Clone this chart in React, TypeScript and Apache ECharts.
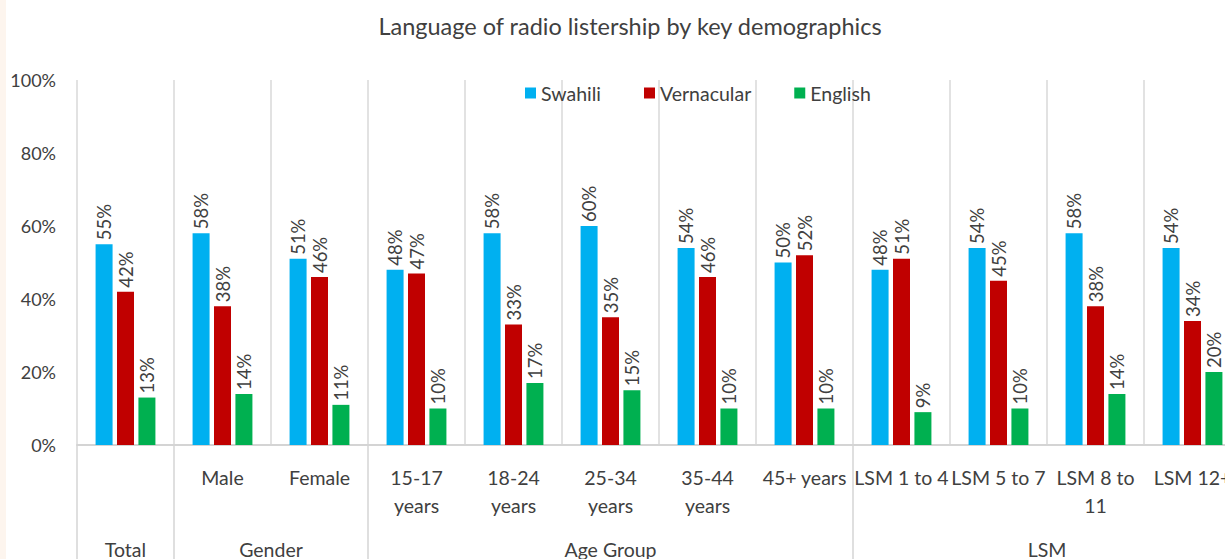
import React, { useEffect, useRef } from "react";
import * as echarts from "echarts";

const categories = [
  "Total",
  "Male",
  "Female",
  "15-17\nyears",
  "18-24\nyears",
  "25-34\nyears",
  "35-44\nyears",
  "45+ years",
  "LSM 1 to 4",
  "LSM 5 to 7",
  "LSM 8 to\n11",
  "LSM 12+",
];
// the "Total" category has no first-level label
const firstLevelLabels = ["", "Male", "Female", "15-17\nyears", "18-24\nyears", "25-34\nyears", "35-44\nyears", "45+ years", "LSM 1 to 4", "LSM 5 to 7", "LSM 8 to\n11", "LSM 12+"];
const groupNames = ["Total", "Gender", "Age Group", "LSM"];
const groupSizes = [1, 2, 5, 4];

const swahili = [55, 58, 51, 48, 58, 60, 54, 50, 48, 54, 58, 54];
const vernacular = [42, 38, 46, 47, 33, 35, 46, 52, 51, 45, 38, 34];
const english = [13, 14, 11, 10, 17, 15, 10, 10, 9, 10, 14, 20];

const yTicks = [0, 20, 40, 60, 80, 100];

const FONT = "Lato, 'Noto Sans', sans-serif";
const TXT = "#404040";

export default function App() {
  const ref = useRef<HTMLDivElement>(null);
  useEffect(() => {
    document.body.style.margin = "0";
    const chart = echarts.init(ref.current!, null, { renderer: "svg" });
    const label = {
      show: true,
      position: "top",
      rotate: 90,
      align: "left",
      verticalAlign: "middle",
      distance: 4,
      fontSize: 18.5,
      fontFamily: FONT,
      color: TXT,
      formatter: (p: any) => Math.round(p.value) + "%",
    };
    const mk = (name: string, data: number[], color: string) => ({
      name,
      type: "bar",
      data,
      barWidth: 17,
      barGap: "26%",
      itemStyle: { color },
      label,
    });
    chart.setOption({
      animation: false,
      textStyle: { fontFamily: FONT },
      title: {
        text: "Language of radio listership by key demographics",
        left: 625,
        textAlign: "center",
        top: 9,
        textStyle: { fontSize: 23.5, fontWeight: "normal", color: TXT, fontFamily: FONT },
      },
      legend: {
        left: 520,
        top: 78,
        itemWidth: 11,
        itemHeight: 11,
        itemGap: 43,
        icon: "rect",
        textStyle: { fontSize: 19.5, color: TXT, fontFamily: FONT },
        data: ["Swahili", "Vernacular", "English"],
      },
      grid: {
        left: 77,
        top: 80,
        right: -16,
        bottom: 114,
        containLabel: false,
        outerBoundsMode: "none",
      },
      xAxis: {
        type: "category",
        data: categories,
        axisLine: { lineStyle: { color: "#d4d4d4", width: 2 } },
        axisTick: { show: false },
        splitLine: { show: true, lineStyle: { color: "#d9d9d9", width: 1.5 } },
        axisLabel: {
          interval: 0,
          margin: 18,
          fontSize: 19.5,
          lineHeight: 28,
          color: TXT,
          fontFamily: FONT,
          formatter: (_v: string, i: number) => firstLevelLabels[i],
        },
      },
      yAxis: {
        type: "value",
        min: 0,
        max: 100,
        interval: 20,
        axisLine: { show: false },
        axisTick: { show: false },
        splitLine: { show: false },
        axisLabel: {
          formatter: (v: number) => (yTicks.includes(v) ? v + "%" : ""),
          fontSize: 18,
          color: TXT,
          fontFamily: FONT,
          margin: 21,
        },
      },
      series: [
        mk("Swahili", swahili, "#00B0F0"),
        mk("Vernacular", vernacular, "#C00000"),
        mk("English", english, "#00B050"),
      ],
    });

    const c0 = chart.convertToPixel({ xAxisIndex: 0 }, 0) as number;
    const c1 = chart.convertToPixel({ xAxisIndex: 0 }, 1) as number;
    const w = c1 - c0;
    const bx = (i: number) => c0 - w / 2 + i * w;
    const yAxisPx = chart.convertToPixel({ yAxisIndex: 0 }, 0) as number;
    const graphics: any[] = [
      { type: "rect", shape: { x: 0, y: 0, width: 6, height: 559 }, style: { fill: "#fdf5ee" }, silent: true },
    ];
    let start = 0;
    const bounds = [0];
    groupSizes.forEach((n, gi) => {
      const mid = bx(start + n / 2);
      graphics.push({
        type: "text",
        x: mid,
        y: 549,
        style: {
          text: groupNames[gi],
          fill: TXT,
          font: `19.5px ${FONT}`,
          align: "center",
          verticalAlign: "middle",
        },
      });
      start += n;
      bounds.push(start);
    });
    bounds.forEach((b) => {
      graphics.push({
        type: "line",
        shape: { x1: bx(b), y1: yAxisPx, x2: bx(b), y2: 559 },
        style: { stroke: "#d4d4d4", lineWidth: 1.5 },
        silent: true,
      });
    });
    chart.setOption({ graphic: graphics });
    return () => chart.dispose();
  }, []);
  return <div ref={ref} style={{ width: 1225, height: 559 }} />;
}
